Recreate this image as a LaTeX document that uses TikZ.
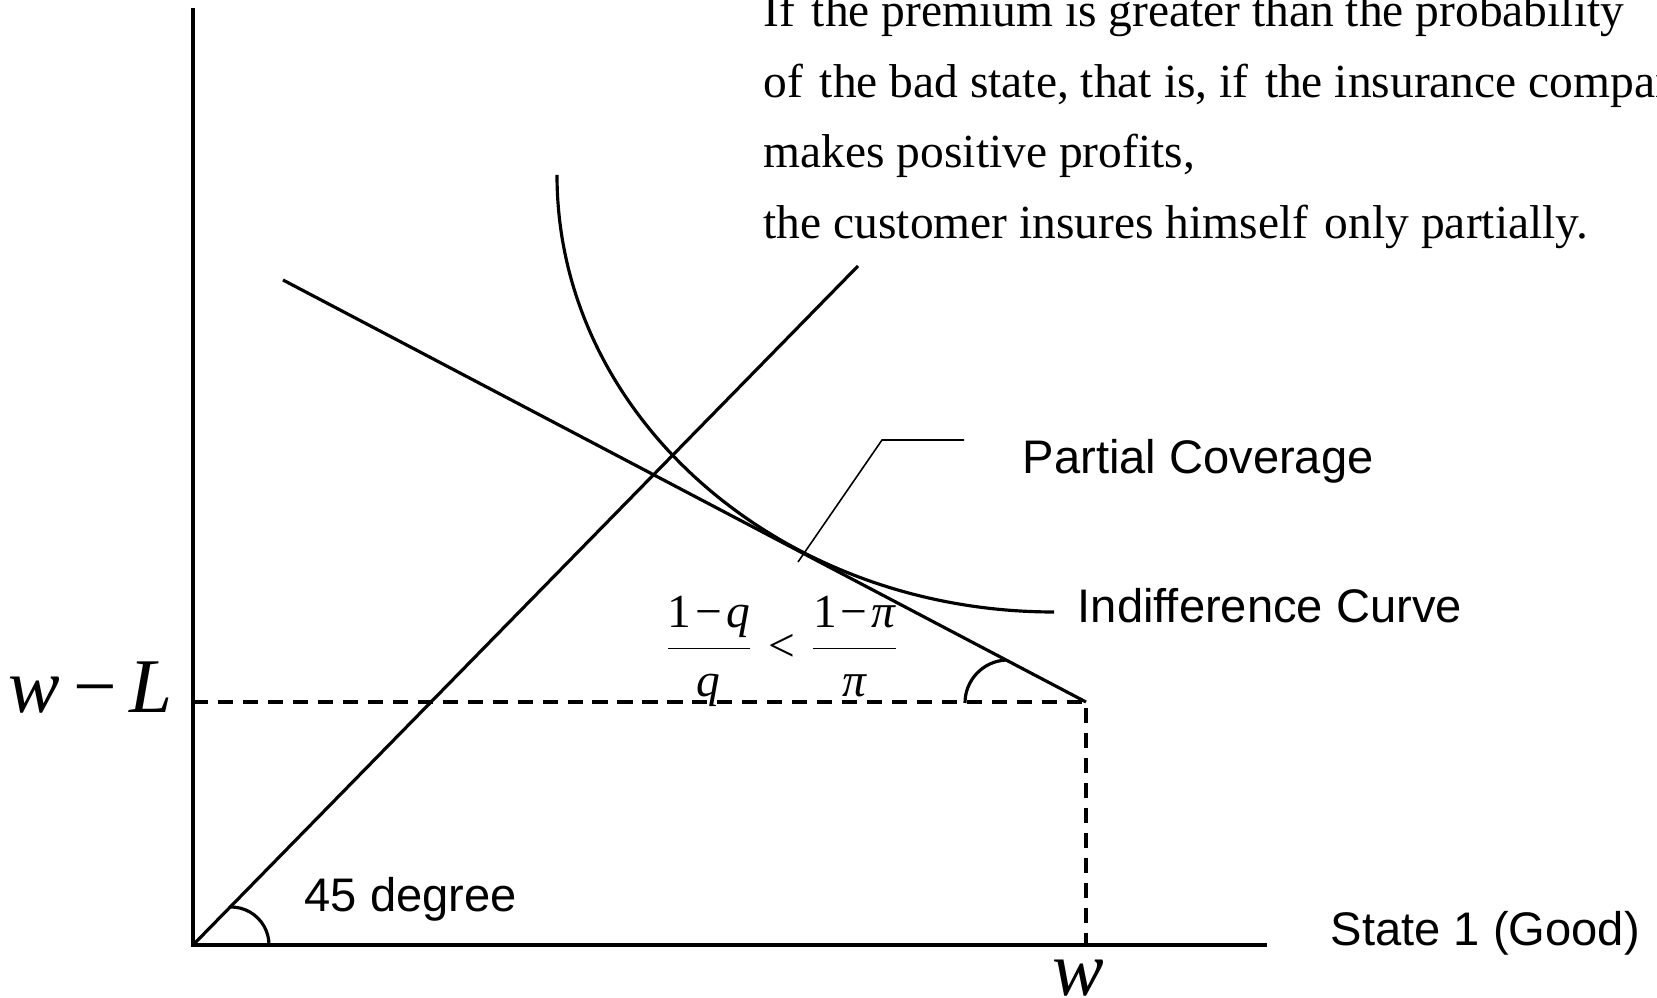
\documentclass[tikz,border=0pt]{standalone}
\usepackage{fontspec}
\setmainfont{Liberation Serif}
\setsansfont{Liberation Sans}
\usepackage{tikz}
\usetikzlibrary{positioning, calc}

\begin{document}
\begin{tikzpicture}[
  x=0.01cm, y=0.01cm,
  font=\fontsize{13.5}{16}\selectfont,
  axis/.style={line width=1.1pt},
  curve/.style={line width=0.9pt},
  guide/.style={line width=0.9pt, dash pattern=on 4.3pt off 2.8pt},
  leader/.style={line width=0.45pt},
  lbl/.style={font=\fontsize{13.4}{16}\sffamily, anchor=base west, inner sep=0pt},
  note/.style={anchor=base west, inner sep=0pt},
  sym/.style={font=\fontsize{22}{26}\selectfont, inner sep=0pt},
]
  \clip (0,0) rectangle (1657,-998);

  \coordinate (O)    at (193,-945);
  \coordinate (ytop) at (193,-8);
  \coordinate (xend) at (1267,-945);
  \coordinate (diag) at (858,-266);
  \coordinate (bl)   at (283,-280);
  \coordinate (C)    at (1086,-702);
  \coordinate (yL)   at (193,-702);
  \coordinate (xw)   at (1086,-945);

  % axes, 45 degree line, budget line
  \draw[axis] (ytop) -- (O) -- (xend);
  \draw[curve] (O) -- (diag);
  \draw[curve] (bl) -- (C);
  \draw[guide] (yL) -- (C) -- (xw);

  % indifference curve
  \coordinate (ic0) at (557,-175);
  \draw[curve] (ic0) arc[start angle=180, end angle=270,
    x radius=497, y radius=437] coordinate (ic1);

  % angle marks
  \draw[curve] (269,-945) arc[start angle=0, end angle=92, radius=38];
  \draw[curve] (965,-703) arc[start angle=180, end angle=93, radius=43];

  % leader to partial coverage
  \coordinate (p0) at (798,-562);
  \coordinate (p1) at (882,-440);
  \coordinate (p2) at (964,-440);
  \draw[leader] (p0) -- (p1) -- (p2);

  \node[lbl] (pcov) at (1022,-474) {Partial Coverage};
  \node[lbl] (icl)  at (1077,-623) {Indifference Curve};
  \node[lbl] (st1)  at (1330,-946) {State 1 (Good)};
  \node[lbl] (deg)  at (304,-912)  {45 degree};

  \node[sym, anchor=base west] (wl) at (8,-713)
    {\textit{w}\,−\,\textit{L}};
  \node[sym, anchor=base] (w) at (1078,-996) {\textit{w}};

  \node (ratio) at (782,-651)
    {$\displaystyle\frac{\mbox{1\kern.08em−\kern.08em\textit{q}}}{\mbox{\textit{q}}}
      \mathrel{\mbox{<}}
      \frac{\mbox{1\kern.08em−\kern.08em\textit{π}}}{\mbox{\textit{π}}}$};

  \foreach \n/\y/\t in {
      t1/-27/{If\hspace{0.35em}the premium is greater than the probability},
      t2/-98/{of\hspace{0.35em}the bad state, that is, if\hspace{0.35em}the insurance company},
      t3/-168/{makes positive profits,},
      t4/-239/{the customer insures himself\hspace{0.35em}only partially.}}
    \node[note] (\n) at (763,\y) {\t};
\end{tikzpicture}
\end{document}
